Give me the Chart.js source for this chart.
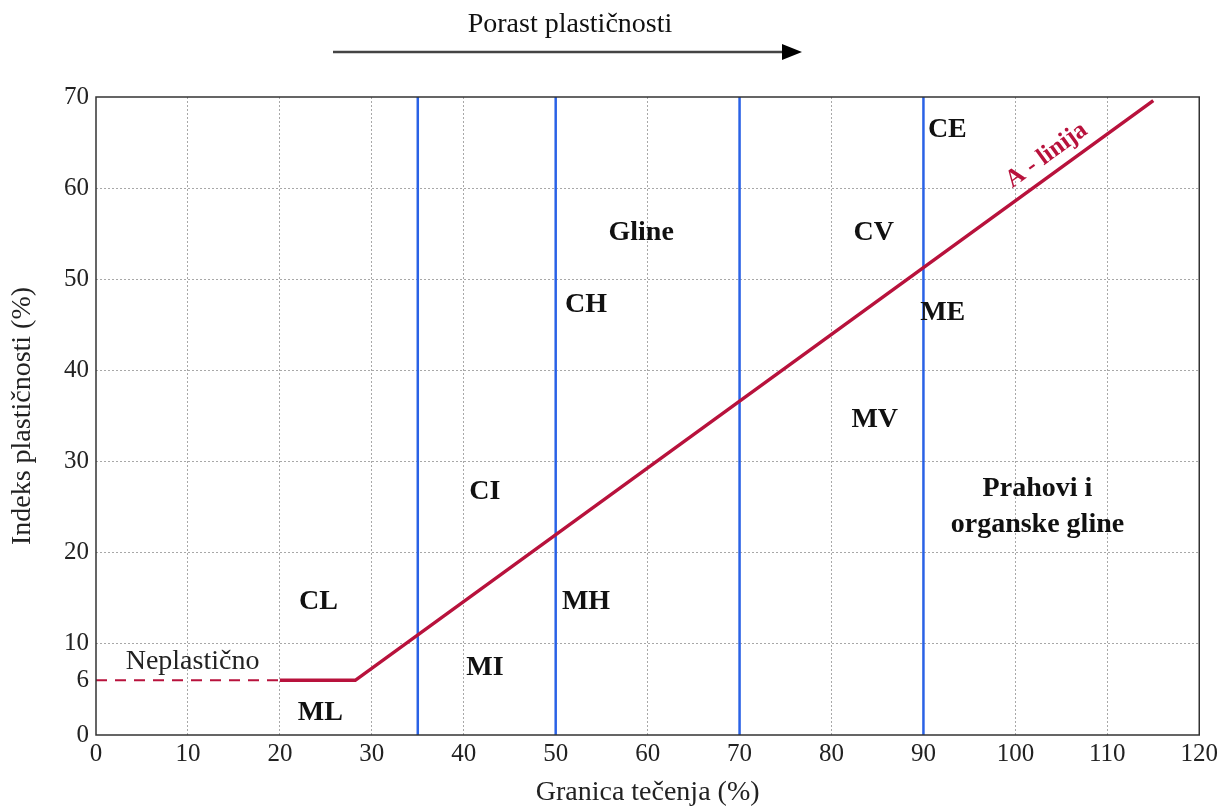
<!DOCTYPE html>
<html>
<head>
<meta charset="utf-8">
<script src="https://cdn.jsdelivr.net/npm/chart.js@4/dist/chart.umd.min.js"></script>
<style>
  html, body { margin: 0; padding: 0; background: #fff; }
  #wrap { width: 1222px; height: 807px; }
</style>
</head>
<body>
<div id="wrap"><canvas id="chart" width="1222" height="807"></canvas></div>
<script>
// osi
var xTicks = [0, 10, 20, 30, 40, 50, 60, 70, 80, 90, 100, 110, 120];
var yTicks = [0, 6, 10, 20, 30, 40, 50, 60, 70];
// granice tecenja (vertikalne linije)
var wlLimits = [35, 50, 70, 90];
// A - linija: Ip = 0.73 (wL - 20)
var aLineX = [20, 28.2, 115];
var aLineY = [6, 6, 69.6];
var nonPlasticX = [0, 20];
var nonPlasticY = [6, 6];
// oznake podrucja
var zoneNames = ['CL', 'ML', 'MI', 'CI', 'MH', 'CH', 'Gline', 'CV', 'ME', 'MV', 'CE', 'Prahovi i', 'organske gline'];
var zoneX = [24.2, 24.4, 42.3, 42.3, 53.3, 53.3, 59.3, 84.6, 92.1, 84.7, 92.6, 102.4, 102.4];
var zoneY = [14.6, 2.4, 7.4, 26.7, 14.6, 47.2, 55.1, 55.1, 46.3, 34.6, 66.4, 27.0, 23.1];

var red = '#b8123c';
var blue = '#2a62e6';
var serif = '"Liberation Serif", "Times New Roman", serif';

function pts(xs, ys) {
  return xs.map(function(x, i) { return {x: x, y: ys[i]}; });
}

var datasets = [];
datasets.push({
  data: pts(nonPlasticX, nonPlasticY),
  borderColor: red, borderWidth: 2, borderDash: [11, 8],
  showLine: true, pointRadius: 0
});
datasets.push({
  data: pts(aLineX, aLineY),
  borderColor: red, borderWidth: 3.5,
  showLine: true, pointRadius: 0
});
wlLimits.forEach(function(w) {
  datasets.push({
    data: [{x: w, y: 0}, {x: w, y: 70}],
    borderColor: blue, borderWidth: 2.5,
    showLine: true, pointRadius: 0
  });
});

var textPlugin = {
  id: 'texts',
  afterDatasetsDraw: function(chart) {
    var ctx = chart.ctx;
    var xs = chart.scales.x, ys = chart.scales.y;
    var a = chart.chartArea;
    ctx.save();
    // okvir
    ctx.strokeStyle = '#333';
    ctx.lineWidth = 1.5;
    ctx.strokeRect(a.left, a.top, a.right - a.left, a.bottom - a.top);

    ctx.fillStyle = '#111';
    ctx.textAlign = 'center';
    ctx.textBaseline = 'middle';
    ctx.font = 'bold 28px ' + serif;
    zoneNames.forEach(function(n, i) {
      ctx.fillText(n, xs.getPixelForValue(zoneX[i]), ys.getPixelForValue(zoneY[i]));
    });

    ctx.font = '28px ' + serif;
    ctx.fillStyle = '#222';
    ctx.fillText('Neplastično', xs.getPixelForValue(10.5), ys.getPixelForValue(8.1));

    // A - linija natpis
    var px = xs.getPixelForValue(103.4), py = ys.getPixelForValue(63.6);
    var ang = Math.atan2(ys.getPixelForValue(aLineY[2]) - ys.getPixelForValue(aLineY[1]), xs.getPixelForValue(aLineX[2]) - xs.getPixelForValue(aLineX[1]));
    ctx.translate(px, py);
    ctx.rotate(ang);
    ctx.fillStyle = red;
    ctx.font = 'bold 25px ' + serif;
    ctx.fillText('A - linija', 0, 0);
    ctx.restore();

    // naslov i strelica
    ctx.save();
    ctx.fillStyle = '#111';
    ctx.font = '28px ' + serif;
    ctx.textAlign = 'center';
    ctx.textBaseline = 'middle';
    ctx.fillText('Porast plastičnosti', 570, 25);
    ctx.strokeStyle = '#444';
    ctx.lineWidth = 2.5;
    ctx.beginPath();
    ctx.moveTo(333, 52);
    ctx.lineTo(785, 52);
    ctx.stroke();
    ctx.fillStyle = '#000';
    ctx.beginPath();
    ctx.moveTo(802, 52);
    ctx.lineTo(782, 44);
    ctx.lineTo(782, 60);
    ctx.closePath();
    ctx.fill();
    ctx.restore();
  }
};

new Chart(document.getElementById('chart').getContext('2d'), {
  type: 'scatter',
  data: { datasets: datasets },
  plugins: [textPlugin],
  options: {
    responsive: false,
    animation: false,
    layout: { padding: { top: 97, right: 22, left: 0, bottom: 0 } },
    plugins: { legend: { display: false }, tooltip: { enabled: false } },
    scales: {
      x: {
        type: 'linear', min: 0, max: 120,
        afterBuildTicks: function(s) { s.ticks = xTicks.map(function(v) { return {value: v}; }); },
        afterFit: function(s) { s.height = 72; },
        grid: {
          color: function(c) { return (c.tick && (c.tick.value === 0 || c.tick.value === 120)) ? 'rgba(0,0,0,0)' : '#a8a8a8'; },
          lineWidth: 1, drawTicks: false
        },
        border: { display: false, dash: [2, 2] },
        ticks: { color: '#222', padding: 4, font: { family: serif, size: 25 }, maxRotation: 0 },
        title: { display: true, text: 'Granica tečenja (%)', color: '#222', padding: { top: 0, bottom: 0 },
          font: { family: serif, size: 28, lineHeight: 1.0 } }
      },
      y: {
        type: 'linear', min: 0, max: 70,
        afterBuildTicks: function(s) { s.ticks = yTicks.map(function(v) { return {value: v}; }); },
        afterFit: function(s) { s.width = 96; },
        grid: {
          color: function(c) { var v = c.tick && c.tick.value; return (v === 0 || v === 6 || v === 70) ? 'rgba(0,0,0,0)' : '#a8a8a8'; },
          lineWidth: 1, drawTicks: false
        },
        border: { display: false, dash: [2, 2] },
        ticks: { color: '#222', padding: 7, font: { family: serif, size: 25 } },
        title: { display: true, text: 'Indeks plastičnosti (%)', color: '#222', padding: { top: 6, bottom: 0 },
          font: { family: serif, size: 28 } }
      }
    }
  }
});
</script>
</body>
</html>
